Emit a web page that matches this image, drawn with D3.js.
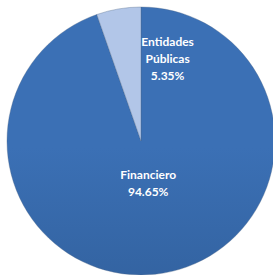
<!DOCTYPE html>
<html>
<head>
<meta charset="utf-8">
<script src="https://cdn.jsdelivr.net/npm/d3@7"></script>
<style>
  body { margin: 0; background: #ffffff; }
  svg { display: block; }
</style>
</head>
<body>
<svg id="pie" width="273" height="275"></svg>
<script>
// sectors and shares (%)
var categories = ["Financiero", "Entidades Públicas"];
var shares = [94.65, 5.35];
var labelLines = [["Financiero", "94.65%"], ["Entidades", "Públicas", "5.35%"]];

var svg = d3.select("#pie"),
    width = +svg.attr("width"),
    height = +svg.attr("height");

var cx = 141, cy = 141, radius = 134;

// gradients like the office chart fill
var defs = svg.append("defs");
var grads = [
    {id: "gFin", top: "#3b70b5", bottom: "#2b568d"},
    {id: "gPub", top: "#b2c6e8", bottom: "#8ea3c6"}
];
grads.forEach(function(g){
    var lg = defs.append("linearGradient")
        .attr("id", g.id)
        .attr("gradientUnits", "userSpaceOnUse")
        .attr("x1", 0).attr("y1", cy - radius)
        .attr("x2", 0).attr("y2", cy + radius);
    lg.append("stop").attr("offset", "0%").attr("stop-color", g.top);
    lg.append("stop").attr("offset", "100%").attr("stop-color", g.bottom);
});

var data = categories.map(function(c, i){ return {name: c, value: shares[i], idx: i}; });

var pie = d3.pie()
    .sort(null)
    .value(function(d){ return d.value; });

var arc = d3.arc()
    .innerRadius(0)
    .outerRadius(radius);

var g = svg.append("g")
    .attr("transform", "translate(" + cx + "," + cy + ")");

g.selectAll("path")
    .data(pie(data))
    .enter()
    .append("path")
    .attr("d", arc)
    .attr("fill", function(d){ return "url(#" + grads[d.data.idx].id + ")"; })
    .attr("stroke", "#4d6487")
    .attr("stroke-width", 0.6)
    .attr("stroke-opacity", 0.6);

// label placement: radius per slice, Entidades pushed right like Excel did
var labelRadius = [43, 86];
var labelShift = [[0, 0], [41, 3]];

var labels = g.selectAll("text.lbl")
    .data(pie(data))
    .enter()
    .append("text")
    .attr("class", "lbl")
    .attr("text-anchor", "middle")
    .attr("font-family", "Lato, 'Open Sans', sans-serif")
    .attr("font-weight", "bold")
    .attr("font-size", 12)
    .attr("fill", "#ffffff")
    .attr("transform", function(d){
        var r = labelRadius[d.data.idx];
        var c = d3.arc().innerRadius(r).outerRadius(r).centroid(d);
        var s = labelShift[d.data.idx];
        var n = labelLines[d.data.idx].length;
        return "translate(" + (c[0] + s[0]) + "," + (c[1] + s[1] - (n - 1) * 8.5 + 4) + ")";
    });

labels.each(function(d){
    var t = d3.select(this);
    labelLines[d.data.idx].forEach(function(line, i){
        t.append("tspan")
            .attr("x", 0)
            .attr("y", i * 17)
            .text(line);
    });
});
</script>
</body>
</html>
